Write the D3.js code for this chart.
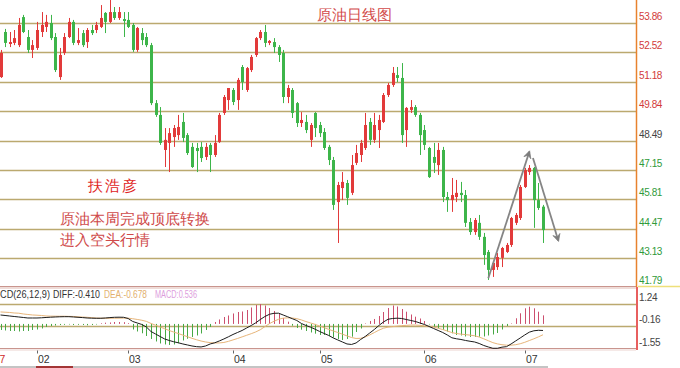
<!DOCTYPE html>
<html><head><meta charset="utf-8">
<script src="https://cdn.jsdelivr.net/npm/d3@7"></script>
<style>
html,body{margin:0;padding:0;background:#fff;overflow:hidden}
svg{display:block}
text{font-family:"Liberation Sans",Arial,sans-serif}
</style></head><body>
<svg id="c" width="680" height="368"></svg>
<script>
// ---------- data (daily candles, one per trading day) ----------
const opens = [51.39,53.45,52.90,52.95,52.85,54.13,53.22,52.63,52.72,53.45,
 53.68,53.86,53.22,51.39,52.49,53.22,53.91,52.95,53.40,52.99,
 53.54,53.54,53.68,54.32,53.91,54.36,54.09,54.04,54.00,53.77,
 52.63,53.40,53.22,52.85,50.20,49.66,48.06,48.38,48.65,48.74,
 49.34,48.74,48.20,48.15,48.20,47.74,48.29,47.83,48.42,49.75,
 50.34,50.80,50.34,51.85,50.80,51.71,52.40,53.17,53.45,52.95,
 52.99,52.76,52.49,50.48,50.80,50.20,49.29,49.34,48.52,49.75,
 49.20,48.88,48.20,47.60,45.68,46.32,46.55,46.10,47.47,47.83,
 48.15,49.34,48.52,48.97,49.34,50.57,51.03,51.48,51.35,48.97,
 49.89,50.02,49.66,48.97,48.15,47.74,47.37,48.06,45.91,45.77,
 45.91,46.10,46.00,44.77,44.31,44.73,44.09,43.40,42.58,42.71,
 43.13,43.40,43.72,44.73,44.95,46.37,47.05,47.24,45.77,45.47];
const highs = [52.63,53.59,53.45,53.54,54.09,54.23,53.54,53.08,53.91,54.36,
 54.23,54.23,53.40,52.72,53.40,54.09,54.00,53.63,53.54,53.63,
 53.77,53.91,54.68,54.36,54.91,54.59,54.59,54.36,54.36,53.86,
 53.68,53.63,53.40,52.95,50.34,50.02,49.06,49.06,49.20,49.66,
 49.75,48.83,48.38,48.38,48.42,48.38,48.38,48.74,49.75,50.57,
 50.89,50.89,51.35,51.94,51.85,52.40,53.22,53.54,53.77,53.08,
 53.17,52.85,52.63,51.03,50.89,50.25,49.79,49.66,49.29,49.79,
 49.34,49.06,48.29,47.74,46.60,47.05,46.69,47.83,48.29,48.52,
 49.75,49.52,49.75,49.66,50.66,51.12,51.85,51.85,52.03,50.02,
 50.34,50.11,49.75,49.20,48.20,48.38,48.38,48.20,46.14,46.78,
 46.69,46.60,46.23,44.95,44.95,45.09,44.27,43.49,42.94,43.35,
 43.63,43.81,45.00,45.18,46.46,47.24,47.37,47.28,46.55,45.55];
const lows = [51.35,52.76,52.76,52.85,52.76,53.40,52.49,52.26,52.63,53.22,
 53.45,53.08,51.62,51.26,52.40,53.17,52.85,52.85,52.76,52.72,
 53.31,53.40,53.63,53.40,53.86,54.00,54.00,53.22,53.63,52.54,
 52.54,52.85,52.76,50.11,49.57,48.29,47.28,47.05,48.20,48.52,
 48.42,47.83,47.24,47.05,47.51,47.60,47.05,47.74,48.38,49.66,
 49.89,50.11,49.89,50.80,50.71,51.62,52.31,53.08,52.76,52.85,
 52.49,52.08,50.20,50.20,49.52,49.11,49.11,48.83,48.20,48.65,
 48.65,48.06,47.37,45.32,43.81,45.77,45.55,46.00,47.37,47.51,
 48.06,48.29,48.38,48.15,49.29,50.48,50.94,51.16,48.38,48.20,
 49.75,49.57,47.83,48.06,46.78,47.01,46.92,45.68,45.23,45.23,
 45.68,45.68,44.54,44.18,44.18,43.95,42.81,42.12,42.26,42.58,
 42.71,43.35,43.63,44.63,44.86,46.32,46.92,44.50,45.32,43.81];
const closes = [52.49,52.95,52.99,53.17,53.77,53.45,52.63,52.85,53.54,53.77,
 53.91,53.17,51.71,52.40,53.22,53.91,52.95,53.08,52.85,53.54,
 53.40,53.77,54.09,53.91,54.36,54.09,54.36,53.95,53.68,52.63,
 53.63,53.08,52.85,50.20,49.66,48.38,48.52,48.83,49.06,49.11,
 48.61,47.92,47.28,48.01,47.69,48.20,47.83,48.38,49.66,50.48,
 50.89,50.25,51.26,51.16,51.80,52.31,53.17,53.45,52.95,53.04,
 52.76,52.40,50.48,50.89,49.75,49.29,49.43,48.97,49.20,49.06,
 48.83,48.15,47.60,45.55,46.46,46.60,45.87,47.37,47.92,48.38,
 49.20,48.52,49.20,49.43,50.57,51.03,51.58,51.35,48.74,49.98,
 50.02,49.66,48.74,48.29,46.82,47.47,48.06,45.91,45.77,46.00,
 46.10,46.00,44.73,44.31,44.86,44.09,43.26,42.58,42.90,43.17,
 43.58,43.72,44.95,45.09,46.37,47.14,47.24,45.77,45.41,44.40];

// MACD panel series
const diffLine = [0.559,0.528,0.496,0.465,0.434,0.403,0.371,0.371,0.371,0.384,
 0.403,0.421,0.434,0.446,0.453,0.453,0.434,0.415,0.396,0.371,
 0.359,0.353,0.353,0.371,0.396,0.415,0.421,0.415,0.340,0.153,
 0.059,-0.035,-0.191,-0.473,-0.629,-0.785,-0.941,-1.035,-1.116,-1.179,
 -1.254,-1.316,-1.379,-1.423,-1.441,-1.379,-1.254,-1.179,-1.066,-0.941,
 -0.804,-0.660,-0.535,-0.410,-0.254,-0.098,0.071,0.278,0.465,0.603,
 0.665,0.671,0.559,0.446,0.328,0.215,0.028,-0.098,-0.204,-0.329,
 -0.473,-0.598,-0.723,-0.879,-1.004,-1.129,-1.254,-1.285,-1.191,-0.973,
 -0.785,-0.566,-0.348,-0.098,0.121,0.290,0.340,0.359,0.340,0.278,
 0.215,0.153,0.059,-0.035,-0.160,-0.285,-0.410,-0.535,-0.691,-0.866,
 -0.929,-0.973,-1.035,-1.085,-1.129,-1.223,-1.348,-1.441,-1.523,-1.523,
 -1.454,-1.423,-1.254,-1.066,-0.879,-0.691,-0.516,-0.429,-0.398,-0.410];
const deaLine = [0.749,0.733,0.716,0.685,0.670,0.623,0.591,0.561,0.545,0.527,
 0.499,0.486,0.483,0.479,0.480,0.471,0.467,0.442,0.429,0.414,
 0.392,0.365,0.358,0.352,0.352,0.356,0.360,0.362,0.360,0.325,
 0.280,0.230,0.160,0.030,-0.080,-0.190,-0.300,-0.410,-0.510,-0.600,
 -0.700,-0.800,-0.900,-0.990,-1.070,-1.130,-1.170,-1.190,-1.190,-1.160,
 -1.090,-1.000,-0.910,-0.810,-0.710,-0.610,-0.500,-0.360,-0.170,0.020,
 0.170,0.290,0.360,0.380,0.370,0.330,0.250,0.150,0.060,-0.030,
 -0.130,-0.240,-0.340,-0.440,-0.540,-0.640,-0.750,-0.850,-0.910,-0.900,
 -0.820,-0.690,-0.540,-0.390,-0.270,-0.200,-0.170,-0.140,-0.110,-0.090,
 -0.070,-0.070,-0.090,-0.120,-0.150,-0.200,-0.270,-0.350,-0.440,-0.540,
 -0.600,-0.640,-0.670,-0.700,-0.740,-0.820,-0.930,-1.050,-1.170,-1.250,
 -1.300,-1.330,-1.330,-1.300,-1.240,-1.150,-1.040,-0.930,-0.810,-0.678];
const macdBars = [-0.379,-0.410,-0.441,-0.441,-0.473,-0.441,-0.441,-0.379,-0.348,-0.285,
 -0.191,-0.129,-0.098,-0.066,-0.054,-0.035,-0.066,-0.054,-0.066,-0.085,
 -0.066,-0.035,0.040,0.078,0.090,0.121,0.121,0.109,0.046,-0.348,
 -0.473,-0.585,-0.754,-0.941,-1.098,-1.223,-1.285,-1.316,-1.285,-1.210,
 -1.035,-0.929,-0.816,-0.723,-0.598,-0.379,-0.191,0.121,0.278,0.434,
 0.528,0.653,0.746,0.778,0.871,1.028,1.184,1.246,1.153,0.996,
 0.809,0.621,0.371,0.139,-0.110,-0.254,-0.360,-0.441,-0.535,-0.610,
 -0.691,-0.691,-0.754,-0.848,-0.941,-1.004,-0.941,-0.798,-0.504,-0.285,
 0.028,0.184,0.309,0.496,0.746,0.996,1.153,1.090,0.934,0.765,
 0.590,0.453,0.340,0.184,-0.035,-0.173,-0.273,-0.379,-0.473,-0.585,
 -0.691,-0.723,-0.785,-0.816,-0.816,-0.798,-0.785,-0.723,-0.660,-0.566,
 -0.348,-0.129,0.028,0.353,0.665,0.978,1.078,0.978,0.765,0.536];

const priceTicks = [53.86,52.52,51.18,49.84,48.49,47.15,45.81,44.47,43.13,41.79];
const refPrice = 48.49;
const macdTicks = [1.24,-0.16,-1.55];
const monthLabels = ["02","03","04","05","06","07"];
const monthStartIndex = [8,28,51,70,93,115];
const yearTail = "7";
const title = "原油日线图";
const author = "扶浩彦";
const notes = ["原油本周完成顶底转换","进入空头行情"];
const macdHeader = ["CD(26,12,9)","DIFF:-0.410","DEA:-0.678","MACD:0.536"];
// trend arrows in (day index, price)
const arrows = [[[107,42.20],[116,47.98]],[[116.8,47.69],[122.35,43.92]]];

// ---------- drawing ----------
const svg = d3.select('#c');
const RIGHT = 636;
const x = d3.scaleLinear().domain([0, opens.length - 1]).range([0.5, 543]);
const y = d3.scaleLinear().domain([41.79, 53.86]).range([287.2, 23]);
const ym = d3.scaleLinear().domain([-1.55, 1.24]).range([348.7, 304.1]);
const RED = '#e23a3a', GREEN = '#3db54a', GOLD = '#bba96f';

svg.append('rect').attr('width',680).attr('height',368).attr('fill','#fff');
const defs = svg.append('defs');
defs.append('clipPath').attr('id','mainClip').append('rect').attr('x',0).attr('y',0).attr('width',RIGHT).attr('height',287);
defs.append('clipPath').attr('id','macdClip').append('rect').attr('x',0).attr('y',288).attr('width',RIGHT).attr('height',61);
defs.append('marker').attr('id','ah').attr('viewBox','0 0 10 10').attr('refX',8).attr('refY',5)
  .attr('markerWidth',9).attr('markerHeight',9).attr('markerUnits','userSpaceOnUse').attr('orient','auto')
  .append('path').attr('d','M1,1 L9,5 L1,9 L4,5 Z').attr('fill','#7d7d7d').attr('stroke','#7d7d7d').attr('stroke-width',0.8);

// grid lines main
svg.append('g').selectAll('line').data(priceTicks.slice(0,-1)).join('line')
  .attr('x1',0).attr('x2',RIGHT).attr('y1',d=>Math.round(y(d))+0.5).attr('y2',d=>Math.round(y(d))+0.5)
  .attr('stroke',GOLD).attr('stroke-width',1.6);

// candles
const idx = d3.range(opens.length);
const cg = svg.append('g').attr('clip-path','url(#mainClip)');
const col = i => closes[i] >= opens[i] ? RED : GREEN;
cg.selectAll('line.w').data(idx).join('line').attr('class','w')
  .attr('x1',i=>Math.round(x(i))+0.5).attr('x2',i=>Math.round(x(i))+0.5)
  .attr('y1',i=>y(highs[i])).attr('y2',i=>y(lows[i])).attr('stroke',col).attr('stroke-width',1);
cg.selectAll('rect.b').data(idx).join('rect').attr('class','b')
  .attr('x',i=>Math.round(x(i))-1).attr('width',3)
  .attr('y',i=>y(Math.max(opens[i],closes[i])))
  .attr('height',i=>Math.max(1, Math.abs(y(opens[i])-y(closes[i]))))
  .attr('fill',col);

// arrows
svg.append('g').selectAll('line').data(arrows).join('line')
  .attr('x1',d=>x(d[0][0])).attr('y1',d=>y(d[0][1])).attr('x2',d=>x(d[1][0])).attr('y2',d=>y(d[1][1]))
  .attr('stroke','#858585').attr('stroke-width',1.8).attr('marker-end','url(#ah)');

// price axis labels
svg.append('g').selectAll('text').data(priceTicks).join('text')
  .attr('x',639).attr('y',d=>Math.round(y(d))-3).attr('font-size',10).attr('letter-spacing',-0.4)
  .attr('fill',d=> d>refPrice+0.001 ? '#d23a3a' : (d<refPrice-0.001 ? '#2f9a3a' : '#444'))
  .text(d=>d.toFixed(2));

// titles & notes
const cjk = '"Noto Sans CJK SC","Noto Sans CJK JP",sans-serif';
svg.append('text').attr('x',317).attr('y',19.5).attr('font-size',15).attr('font-family',cjk).attr('fill','#d24a4a').text(title);
svg.append('text').attr('x',88).attr('y',191).attr('font-size',15).attr('letter-spacing',2).attr('font-family',cjk).attr('fill','#e02424').text(author);
svg.selectAll('text.note').data(notes).join('text').attr('class','note')
  .attr('x',60).attr('y',(d,i)=>223.5+i*21.5).attr('font-size',15).attr('font-family',cjk).attr('fill','#cf4a4a').text(d=>d);

// separators
svg.append('line').attr('x1',0).attr('x2',RIGHT).attr('y1',286.5).attr('y2',286.5).attr('stroke','#c9958e').attr('stroke-width',1);
svg.append('line').attr('x1',0).attr('x2',RIGHT).attr('y1',288).attr('y2',288).attr('stroke','#ead0cb').attr('stroke-width',1.5);
svg.append('line').attr('x1',638).attr('x2',680).attr('y1',286.5).attr('y2',286.5).attr('stroke','#eee07a').attr('stroke-width',1.5);

// MACD grid
svg.append('g').selectAll('line').data(macdTicks.slice(0,2)).join('line')
  .attr('x1',0).attr('x2',RIGHT).attr('y1',d=>Math.round(ym(d))+0.5).attr('y2',d=>Math.round(ym(d))+0.5)
  .attr('stroke',GOLD).attr('stroke-width',1.4);
svg.append('line').attr('x1',0).attr('x2',RIGHT).attr('y1',348.5).attr('y2',348.5).attr('stroke','#c9958e').attr('stroke-width',1.2);
svg.append('line').attr('x1',0).attr('x2',RIGHT).attr('y1',350).attr('y2',350).attr('stroke','#ecd4cf').attr('stroke-width',1.2);

// MACD histogram & lines
const mg = svg.append('g').attr('clip-path','url(#macdClip)');
mg.selectAll('line.h').data(idx).join('line').attr('class','h')
  .attr('x1',i=>Math.round(x(i))+0.5).attr('x2',i=>Math.round(x(i))+0.5)
  .attr('y1',ym(0)).attr('y2',i=>ym(macdBars[i]))
  .attr('stroke',i=>macdBars[i]>=0 ? '#cc4f6e' : '#46a844').attr('stroke-width',1);
mg.append('path').datum(deaLine).attr('fill','none').attr('stroke','#e7b57a').attr('stroke-width',1)
  .attr('d',d3.line().x((d,i)=>x(i)).y(d=>ym(d)));
mg.append('path').datum(diffLine).attr('fill','none').attr('stroke','#1c1c1c').attr('stroke-width',1)
  .attr('d',d3.line().x((d,i)=>x(i)).y(d=>ym(d)));

// MACD header
const hdrX = [0,53,104,155], hdrW = [50,47,43,42], hdrC = ['#333','#333','#e2b06e','#dd9ddd'];
svg.selectAll('text.hdr').data(macdHeader).join('text').attr('class','hdr')
  .attr('x',(d,i)=>hdrX[i]).attr('y',297.5).attr('font-size',10)
  .attr('textLength',(d,i)=>hdrW[i]).attr('lengthAdjust','spacingAndGlyphs')
  .attr('fill',(d,i)=>hdrC[i]).text(d=>d);

// MACD axis labels
svg.append('g').selectAll('text').data(macdTicks).join('text')
  .attr('x',639).attr('y',d=>Math.min(346, Math.round(ym(d))-3)).attr('font-size',10).attr('letter-spacing',-0.3)
  .attr('fill','#444').text(d=>d.toFixed(2));

// right borders
svg.append('line').attr('x1',RIGHT+0.5).attr('x2',RIGHT+0.5).attr('y1',0).attr('y2',287).attr('stroke','#e8822e').attr('stroke-width',1.5);
svg.append('line').attr('x1',RIGHT+1).attr('x2',RIGHT+1).attr('y1',287).attr('y2',350).attr('stroke','#e02a2a').attr('stroke-width',1.5);

// x axis
const xa = svg.append('g');
xa.selectAll('line').data(monthStartIndex).join('line')
  .attr('x1',i=>Math.round(x(i))+0.5).attr('x2',i=>Math.round(x(i))+0.5).attr('y1',350.5).attr('y2',353.5)
  .attr('stroke','#666');
xa.selectAll('text').data(monthLabels).join('text')
  .attr('x',(d,i)=>Math.round(x(monthStartIndex[i]))+1).attr('y',362.5).attr('font-size',10.5)
  .attr('fill','#333').text(d=>d);
svg.append('text').attr('x',-0.5).attr('y',362.5).attr('font-size',10.5).attr('fill','#d02a2a').text(yearTail);

// bottom tab strip
svg.append('rect').attr('x',0).attr('y',366).attr('width',548).attr('height',2).attr('fill','#c4c4c4');
svg.append('rect').attr('x',36).attr('y',366).attr('width',37).attr('height',2).attr('fill','#a33535');
</script>
</body></html>
